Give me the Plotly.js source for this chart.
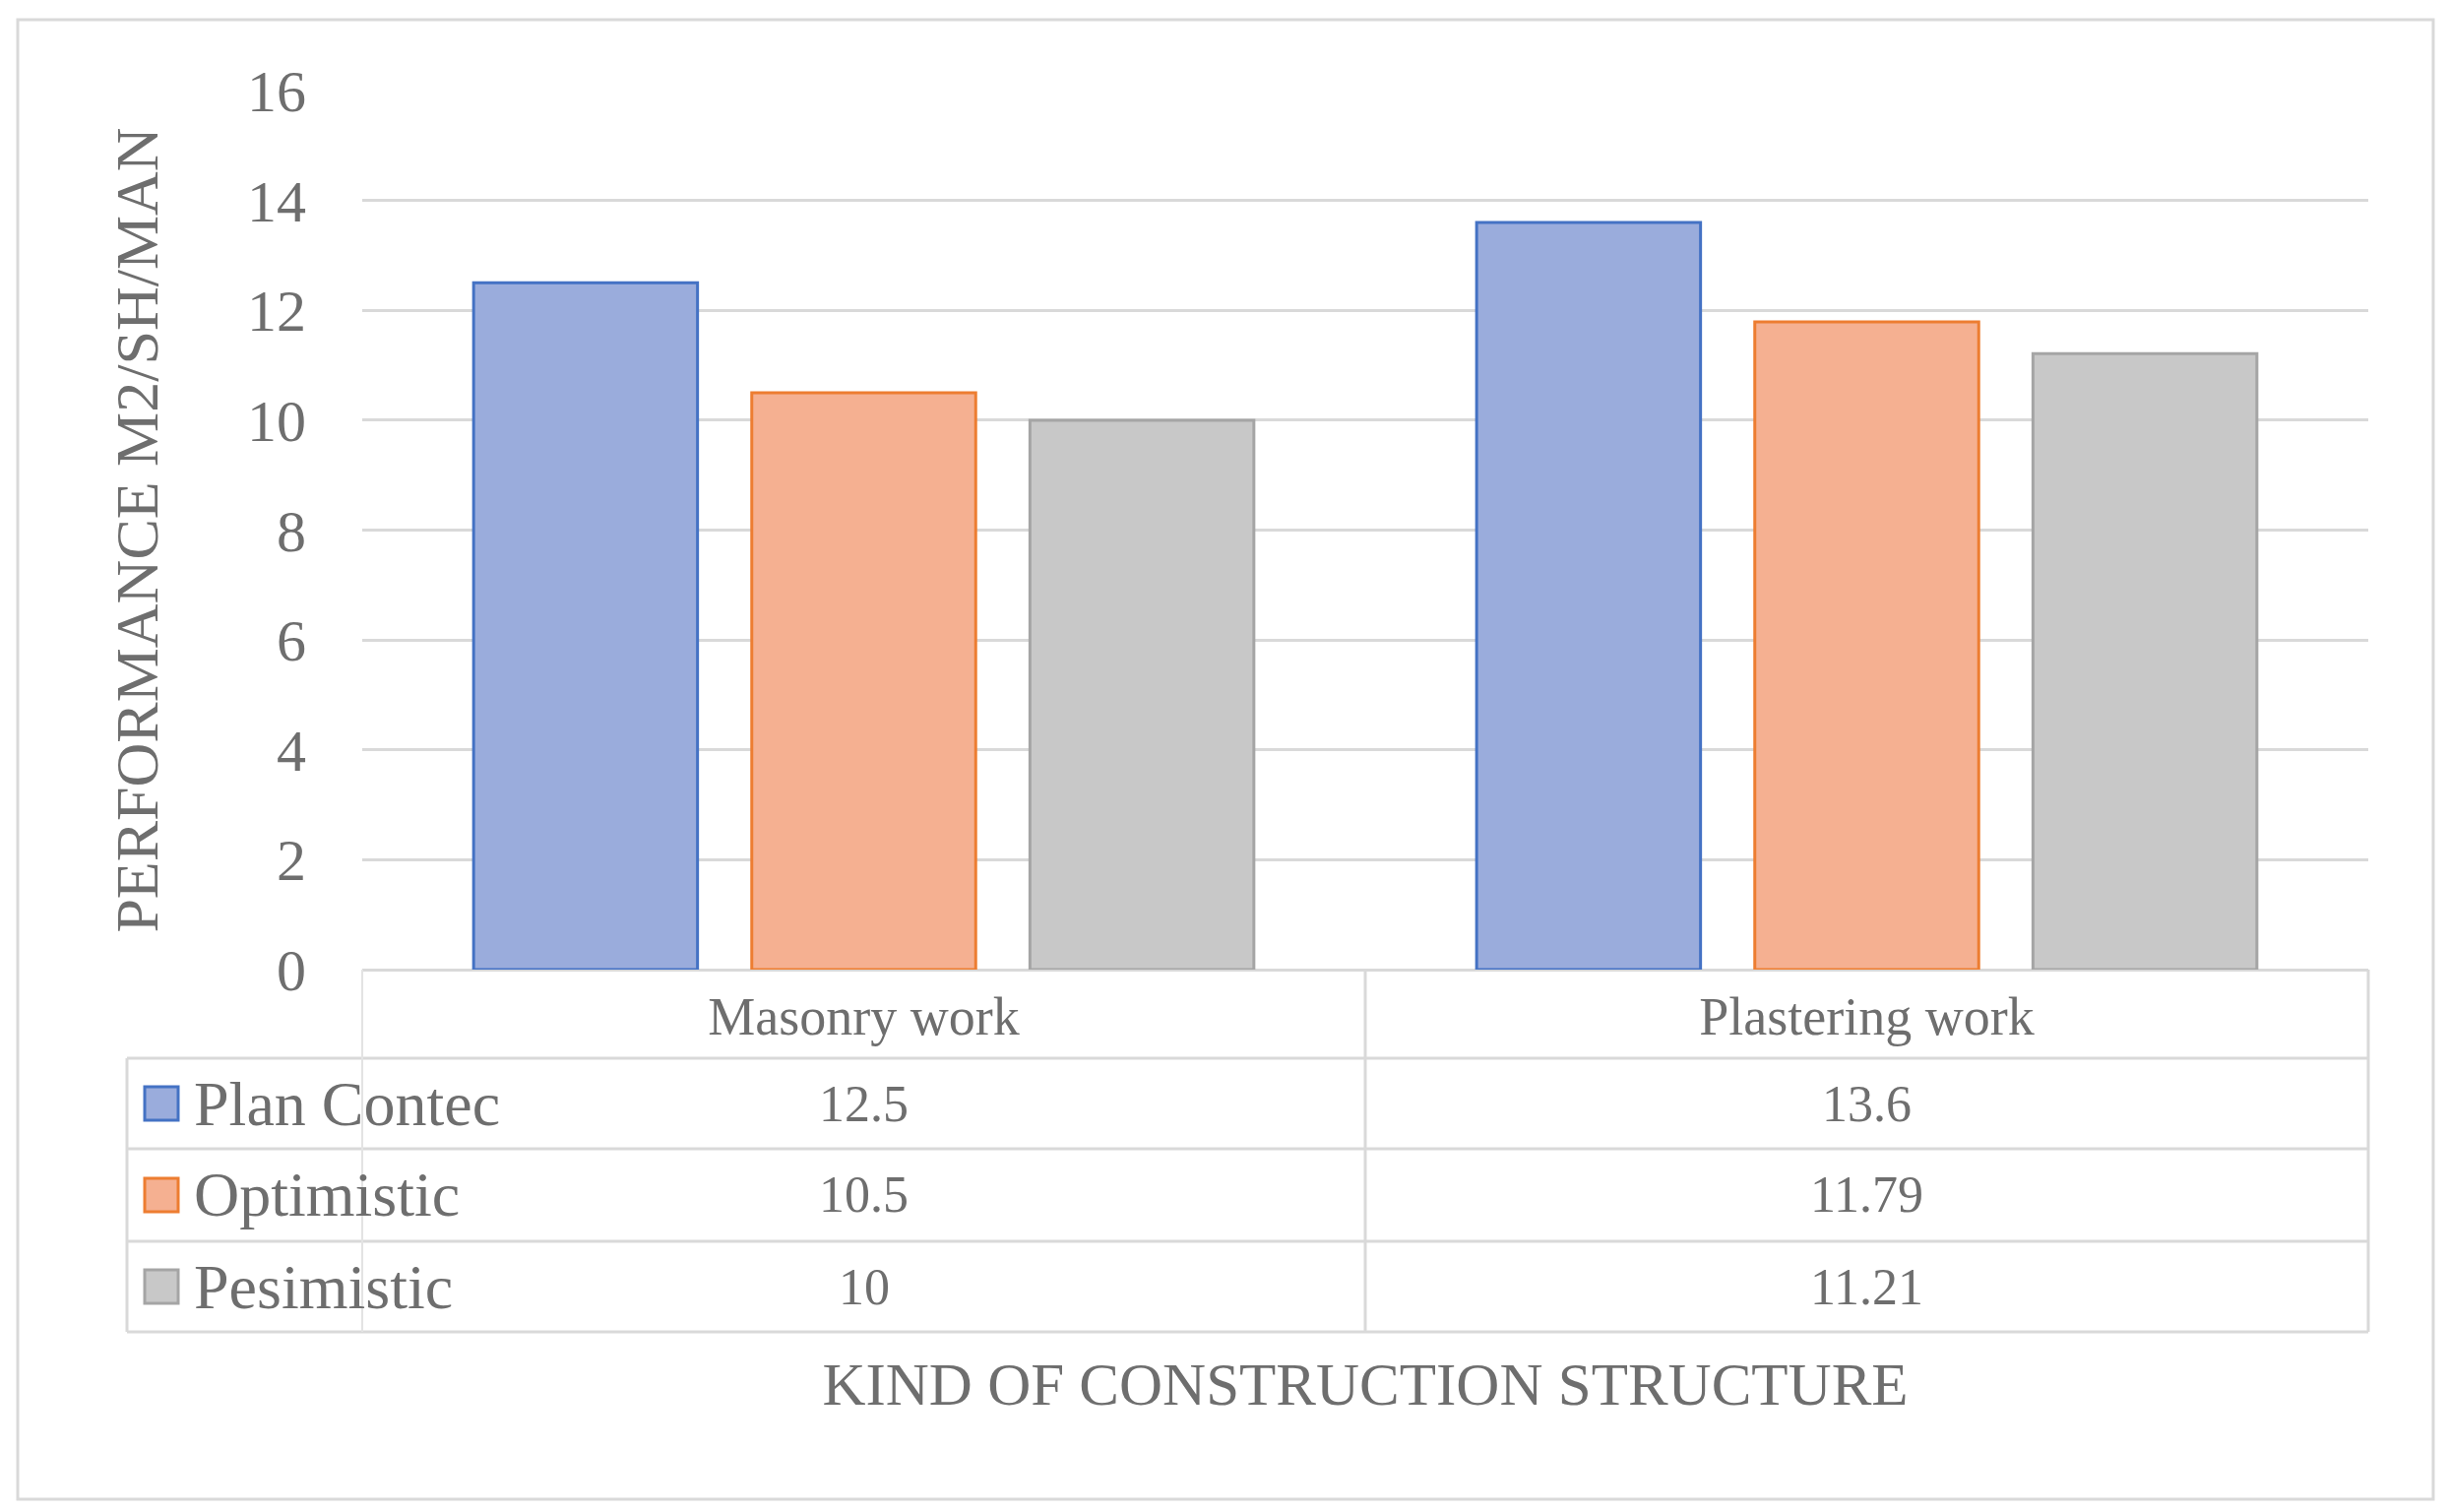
<!DOCTYPE html>
<html><head><meta charset="utf-8">
<script src="https://cdn.plot.ly/plotly-3.0.1.min.js"></script>
<style>html,body{margin:0;padding:0;background:#fff;}#chart{width:2487px;height:1536px;}</style>
</head><body><div id="chart"></div>
<script>
// ---- data ----
const categories = ['Masonry work', 'Plastering work'];
const seriesNames = ['Plan Contec', 'Optimistic', 'Pesimistic'];
const planContec = [12.5, 13.6];
const optimistic = [10.5, 11.79];
const pesimistic = [10, 11.21];
const yTickValues = [0, 2, 4, 6, 8, 10, 12, 14, 16];
const yTitle = 'PERFORMANCE M2/SH/MAN';
const xTitle = 'KIND OF CONSTRUCTION STRUCTURE';

// ---- styles ----
const seriesValues = [planContec, optimistic, pesimistic];
const fills = ['#9aacdc', '#f5b091', '#c8c8c8'];
const edges = ['#4472c4', '#ed7d31', '#a5a5a5'];
const txt = '#6e6e6e';
const grid = '#d9d9d9';
const FONT = 'Liberation Serif, Times New Roman, serif';

// page geometry (px)
const W = 2487, H = 1536;
const PL = 368, PR = 2406, PT = 92, PB = 985;
const px2x = p => (p - PL) / (PR - PL);
const py2y = p => (PB - p) / (PB - PT);
const tableLeft = 129;
const rowEdges = [985, 1075, 1167, 1261, 1353];

const traces = seriesNames.map((name, i) => ({
  type: 'bar',
  name: name,
  x: categories,
  y: seriesValues[i],
  marker: {color: fills[i], line: {color: edges[i], width: 3}},
  hoverinfo: 'skip'
}));

const shapes = [];
const annotations = [];
const ln = (x0, y0, x1, y1, color, width, xref) => shapes.push({
  type: 'line', xref: xref || 'paper', yref: 'paper',
  x0: x0, y0: y0, x1: x1, y1: y1, line: {color: color || grid, width: width || 3}
});
// outer frame
shapes.push({type: 'rect', xref: 'paper', yref: 'paper',
  x0: px2x(18), x1: px2x(2472), y0: py2y(20), y1: py2y(1523),
  line: {color: '#d9d9d9', width: 3}, fillcolor: 'rgba(0,0,0,0)'});
// table horizontal lines
for (let k = 1; k < rowEdges.length; k++) {
  ln(px2x(tableLeft), py2y(rowEdges[k]), 1, py2y(rowEdges[k]));
}
// table vertical lines
ln(px2x(tableLeft), py2y(rowEdges[1]), px2x(tableLeft), py2y(rowEdges[4]));
ln(0, py2y(rowEdges[0]), 0, py2y(rowEdges[4]), '#e3e3e3', 2);
ln(1, py2y(rowEdges[0]), 1, py2y(rowEdges[4]));
ln(0.5, py2y(rowEdges[0]), 0.5, py2y(rowEdges[4]), grid, 3, 'x');

// legend keys + names + values in table rows
seriesNames.forEach((name, i) => {
  const yc = (rowEdges[i + 1] + rowEdges[i + 2]) / 2;
  shapes.push({type: 'rect', xref: 'paper', yref: 'paper',
    x0: px2x(147), x1: px2x(181), y0: py2y(yc - 17), y1: py2y(yc + 17),
    fillcolor: fills[i], line: {color: edges[i], width: 3}});
  annotations.push({xref: 'paper', yref: 'paper', x: px2x(195), y: py2y(yc),
    xanchor: 'left', yanchor: 'middle', showarrow: false, text: name,
    font: {family: FONT, size: 64, color: txt}});
  categories.forEach((c, j) => {
    annotations.push({xref: 'x', yref: 'paper', x: c, y: py2y(yc),
      xanchor: 'center', yanchor: 'middle', showarrow: false,
      text: String(seriesValues[i][j]),
      font: {family: FONT, size: 52, color: txt}});
  });
});

const layout = {
  width: W, height: H,
  margin: {l: PL, r: W - PR, t: PT, b: H - PB, pad: 0},
  paper_bgcolor: '#fff', plot_bgcolor: '#fff',
  showlegend: false,
  barmode: 'group', bargap: 0.168, bargroupgap: 0.195,
  font: {family: FONT, color: txt},
  xaxis: {
    type: 'category', range: [-0.5, 1.5], fixedrange: true,
    showgrid: false, zeroline: false, showline: false, ticks: '',
    ticklabelstandoff: 11,
    tickfont: {family: FONT, size: 54, color: txt},
    title: {text: xTitle, standoff: 322, font: {family: FONT, size: 61, color: txt}},
    automargin: false
  },
  yaxis: {
    range: [0, 16], tickvals: yTickValues, fixedrange: true,
    showgrid: true, gridcolor: grid, gridwidth: 3,
    zeroline: true, zerolinecolor: grid, zerolinewidth: 3,
    showline: false, ticks: '', ticklabelstandoff: 56,
    tickfont: {family: FONT, size: 60, color: txt},
    title: {text: yTitle, standoff: 70, font: {family: FONT, size: 62, color: txt}},
    automargin: false
  },
  shapes: shapes,
  annotations: annotations
};

Plotly.newPlot('chart', traces, layout, {displayModeBar: false, staticPlot: true});
</script></body></html>
